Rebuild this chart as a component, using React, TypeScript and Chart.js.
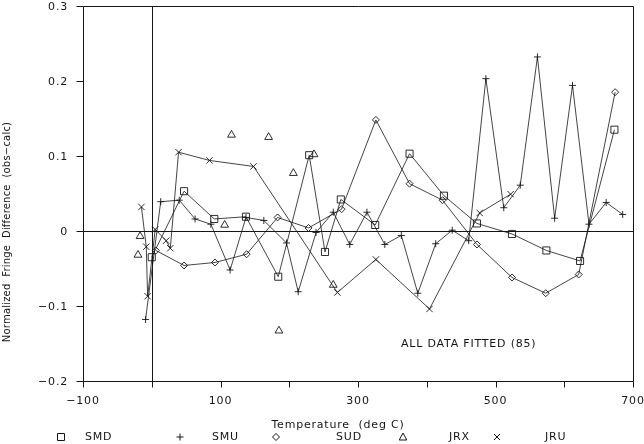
import React, { useEffect, useRef } from 'react';
import { Chart, registerables } from 'chart.js';

Chart.register(...registerables);

// ---- data ----
const smdX = [0, 47, 91, 137, 184, 229, 252, 275, 325, 375, 425, 473, 524, 574, 623, 673];
const smdY = [-0.035, 0.053, 0.016, 0.019, -0.061, 0.101, -0.028, 0.042, 0.008, 0.103, 0.047, 0.010, -0.004, -0.026, -0.040, 0.135];

const smuX = [-9, 13, 40, 63, 86, 114, 137, 163, 196, 213, 239, 264, 288, 313, 339, 363, 387, 413, 437, 461, 486, 512, 536, 561, 586, 612, 636, 661, 685];
const smuY = [-0.118, 0.039, 0.041, 0.016, 0.009, -0.052, 0.018, 0.014, -0.016, -0.081, -0.002, 0.025, -0.018, 0.025, -0.018, -0.006, -0.083, -0.017, 0.001, -0.013, 0.203, 0.031, 0.061, 0.232, 0.017, 0.194, 0.009, 0.038, 0.022];

const sudX = [6, 47, 92, 138, 183, 228, 276, 326, 375, 423, 473, 524, 573, 621, 674];
const sudY = [-0.026, -0.046, -0.042, -0.031, 0.018, 0.004, 0.029, 0.148, 0.063, 0.041, -0.018, -0.062, -0.083, -0.058, 0.185];

const jrxX = [-20, -17, 106, 116, 170, 185, 206, 236, 264];
const jrxY = [-0.032, -0.007, 0.008, 0.128, 0.125, -0.133, 0.077, 0.102, -0.072];

const jruX = [-15, -8, -6, 5, 21, 27, 39, 84, 148, 270, 326, 404, 477, 522];
const jruY = [0.032, -0.021, -0.087, 0.002, -0.013, -0.023, 0.105, 0.094, 0.086, -0.082, -0.038, -0.104, 0.024, 0.049];

const seriesNames = ['SMD', 'SMU', 'SUD', 'JRX', 'JRU'];

const xTickValues = [-100, 0, 100, 200, 300, 400, 500, 600, 700];
const xTickLabels = ['\u2212100', '', '100', '', '300', '', '500', '', '700'];
const yTickValues = [-0.2, -0.1, 0, 0.1, 0.2, 0.3];
const yTickLabels = ['\u22120.2', '\u22120.1', '0', '0.1', '0.2', '0.3'];

const xTitle = 'Temperature  (deg C)';
const yTitle = 'Normalized  Fringe  Difference  (obs\u2212calc)';
const noteText = 'ALL DATA FITTED (85)';

const INK = '#151515';
const FONT = '"DejaVu Sans", "Liberation Sans", sans-serif';

function toPoints(xs: number[], ys: number[]) {
  return xs.map((v, i) => ({ x: v, y: ys[i] }));
}

function drawMarker(ctx: CanvasRenderingContext2D, kind: string, cx: number, cy: number) {
  ctx.beginPath();
  if (kind === 'rect') {
    ctx.rect(cx - 3.5, cy - 3.5, 7, 7);
  } else if (kind === 'cross') {
    ctx.moveTo(cx - 3.5, cy); ctx.lineTo(cx + 3.5, cy);
    ctx.moveTo(cx, cy - 3.5); ctx.lineTo(cx, cy + 3.5);
  } else if (kind === 'rectRot') {
    ctx.moveTo(cx, cy - 3.5); ctx.lineTo(cx + 3.5, cy); ctx.lineTo(cx, cy + 3.5); ctx.lineTo(cx - 3.5, cy); ctx.closePath();
  } else if (kind === 'triangle') {
    ctx.moveTo(cx, cy - 4); ctx.lineTo(cx + 3.8, cy + 3); ctx.lineTo(cx - 3.8, cy + 3); ctx.closePath();
  } else {
    ctx.moveTo(cx - 3, cy - 3); ctx.lineTo(cx + 3, cy + 3);
    ctx.moveTo(cx + 3, cy - 3); ctx.lineTo(cx - 3, cy + 3);
  }
  ctx.stroke();
}

const legendStyles = ['rect', 'cross', 'rectRot', 'triangle', 'crossRot'];
const legendMarkerX = [61, 180, 276, 403, 497];
const legendTextX = [85, 212, 336, 449, 545];

const decorPlugin = {
  id: 'decor',
  beforeDatasetsDraw(chart: any) {
    const { ctx, chartArea: a, scales } = chart;
    const xs = scales.x;
    const ys = scales.y;
    ctx.save();
    ctx.strokeStyle = INK;
    ctx.lineWidth = 1;
    const L = Math.round(a.left) + 0.5;
    const R = Math.round(a.right) + 0.5;
    const T = Math.round(a.top) + 0.5;
    const B = Math.round(a.bottom) + 0.5;
    ctx.beginPath();
    ctx.rect(L, T, R - L, B - T);
    const x0 = Math.round(xs.getPixelForValue(0)) + 0.5;
    const y0 = Math.round(ys.getPixelForValue(0)) + 0.5;
    ctx.moveTo(x0, T); ctx.lineTo(x0, B);
    ctx.moveTo(L, y0); ctx.lineTo(R, y0);
    xTickValues.forEach((v) => {
      const px = Math.round(xs.getPixelForValue(v)) + 0.5;
      ctx.moveTo(px, B); ctx.lineTo(px, B + 6);
    });
    yTickValues.forEach((v) => {
      const py = Math.round(ys.getPixelForValue(v)) + 0.5;
      ctx.moveTo(L - 7, py); ctx.lineTo(L, py);
    });
    ctx.stroke();
    ctx.restore();
  },
  afterDraw(chart: any) {
    const { ctx, chartArea: a, scales } = chart;
    const xs = scales.x;
    const ys = scales.y;
    ctx.save();
    ctx.fillStyle = INK;
    ctx.strokeStyle = INK;
    ctx.textBaseline = 'middle';
    (ctx as any).letterSpacing = '0.8px';
    ctx.font = '11px ' + FONT;
    // y tick labels
    ctx.textAlign = 'right';
    yTickValues.forEach((v, i) => {
      const py = ys.getPixelForValue(v);
      ctx.fillText(yTickLabels[i], 68, py + 1);
    });
    // x tick labels
    ctx.textAlign = 'center';
    xTickValues.forEach((v, i) => {
      if (!xTickLabels[i]) return;
      ctx.fillText(xTickLabels[i], xs.getPixelForValue(v), 401);
    });
    // x title
    ctx.fillText(xTitle, 338, 425);
    // note
    ctx.textAlign = 'left';
    ctx.fillText(noteText, 401, 344);
    // legend
    ctx.lineWidth = 1;
    seriesNames.forEach((name, i) => {
      drawMarker(ctx, legendStyles[i], legendMarkerX[i], 437);
      ctx.fillText(name, legendTextX[i], 437);
    });
    // y title
    ctx.translate(7, 232);
    ctx.rotate(-Math.PI / 2);
    ctx.textAlign = 'center';
    ctx.font = '10px ' + FONT;
    (ctx as any).letterSpacing = '0.2px';
    ctx.fillText(yTitle, 0, 0);
    ctx.restore();
  },
};

export default function App() {
  const ref = useRef<HTMLCanvasElement | null>(null);
  useEffect(() => {
    if (!ref.current) return;
    const common = {
      borderColor: INK,
      borderWidth: 0.8,
      pointBorderColor: INK,
      pointBackgroundColor: 'rgba(0,0,0,0)',
      pointBorderWidth: 0.9,
      tension: 0,
    };
    const chart = new Chart(ref.current, {
      type: 'scatter',
      data: {
        datasets: [
          { ...common, label: seriesNames[0], data: toPoints(smdX, smdY), showLine: true, pointStyle: 'rect', pointRadius: 5 },
          { ...common, label: seriesNames[1], data: toPoints(smuX, smuY), showLine: true, pointStyle: 'cross', pointRadius: 3.5 },
          { ...common, label: seriesNames[2], data: toPoints(sudX, sudY), showLine: true, pointStyle: 'rectRot', pointRadius: 3.5 },
          { ...common, label: seriesNames[3], data: toPoints(jrxX, jrxY), showLine: false, pointStyle: 'triangle', pointRadius: 4.5 },
          { ...common, label: seriesNames[4], data: toPoints(jruX, jruY), showLine: true, pointStyle: 'crossRot', pointRadius: 4.5 },
        ],
      } as any,
      options: {
        animation: false,
        responsive: false,
        maintainAspectRatio: false,
        devicePixelRatio: 1,
        layout: { padding: { left: 83, right: 11, top: 4, bottom: 63 } },
        scales: {
          x: { type: 'linear', min: -100, max: 700, display: false },
          y: { type: 'linear', min: -0.2, max: 0.3, display: false },
        },
        plugins: { legend: { display: false }, tooltip: { enabled: false } },
        events: [],
      } as any,
      plugins: [decorPlugin],
    });
    return () => chart.destroy();
  }, []);
  return (
    <div style={{ position: 'absolute', left: 0, top: 0, width: 644, height: 444, background: '#fff' }}>
      <canvas ref={ref} width={644} height={444} style={{ display: 'block' }} />
    </div>
  );
}
